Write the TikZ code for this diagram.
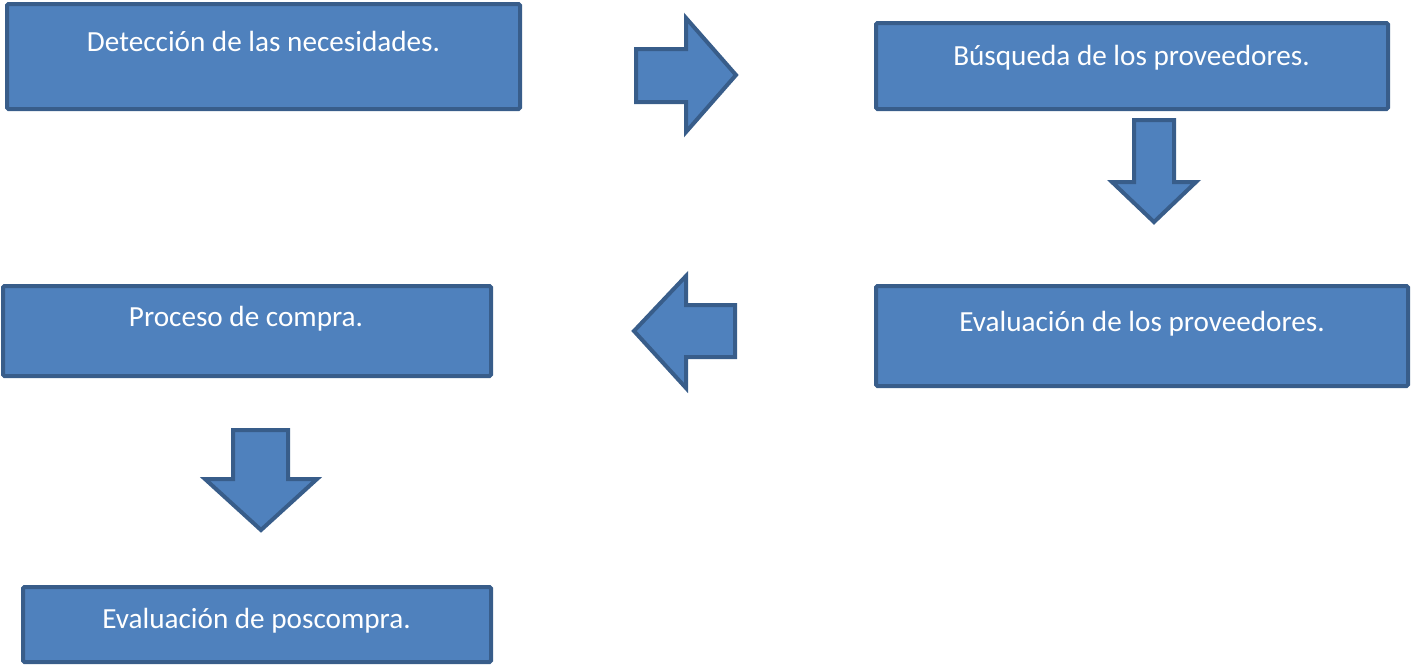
\documentclass[tikz,border=0pt]{standalone}
\usepackage{fontspec}
\setmainfont{Carlito}
\definecolor{boxfill}{HTML}{4F81BD}
\definecolor{boxline}{HTML}{385D8A}
\tikzset{
  box/.style={draw=boxline, fill=boxfill, line width=4pt, rounded corners=1.5pt, inner sep=0pt},
  txt/.style={text=white, font=\fontsize{29.2}{33}\selectfont, anchor=base, inner sep=0pt},
  blockarrow/.style={draw=boxline, fill=boxfill, line width=4pt, line join=miter}
}
\begin{document}
\begin{tikzpicture}[x=1pt,y=-1pt]
\useasboundingbox (0,0) rectangle (1411,665);
% boxes
\node[box, minimum width=513pt, minimum height=105pt] (b1) at (263.5,56.5) {};
\node[box, minimum width=512pt, minimum height=86pt] (b2) at (1132,66) {};
\node[box, minimum width=532pt, minimum height=100pt] (b3) at (1142,336) {};
\node[box, minimum width=488pt, minimum height=90pt] (b4) at (247,331) {};
\node[box, minimum width=468pt, minimum height=75pt] (b5) at (257,624.5) {};
% texts
\node[txt] (t1) at (263.5,51.5) {Detección de las necesidades.};
\node[txt] (t2) at (1131.5,65.5) {Búsqueda de los proveedores.};
\node[txt] (t3) at (1142,331.5) {Evaluación de los proveedores.};
\node[txt] (t4) at (246,326.5) {Proceso de compra.};
\node[txt] (t5) at (256.5,628.5) {Evaluación de poscompra.};
% block arrows
\draw[blockarrow] (636,49) -- (686,49) -- (686,18) -- (736,75) -- (686,132) -- (686,102) -- (636,102) -- cycle;
\draw[blockarrow] (1134,120) -- (1174,120) -- (1174,182) -- (1196,182) -- (1154,222) -- (1112,182) -- (1134,182) -- cycle;
\draw[blockarrow] (634,331) -- (686,276) -- (686,305) -- (735,305) -- (735,357) -- (686,357) -- (686,388) -- cycle;
\draw[blockarrow] (233,430) -- (288,430) -- (288,479) -- (317,479) -- (261,530) -- (205,479) -- (233,479) -- cycle;
\end{tikzpicture}
\end{document}
